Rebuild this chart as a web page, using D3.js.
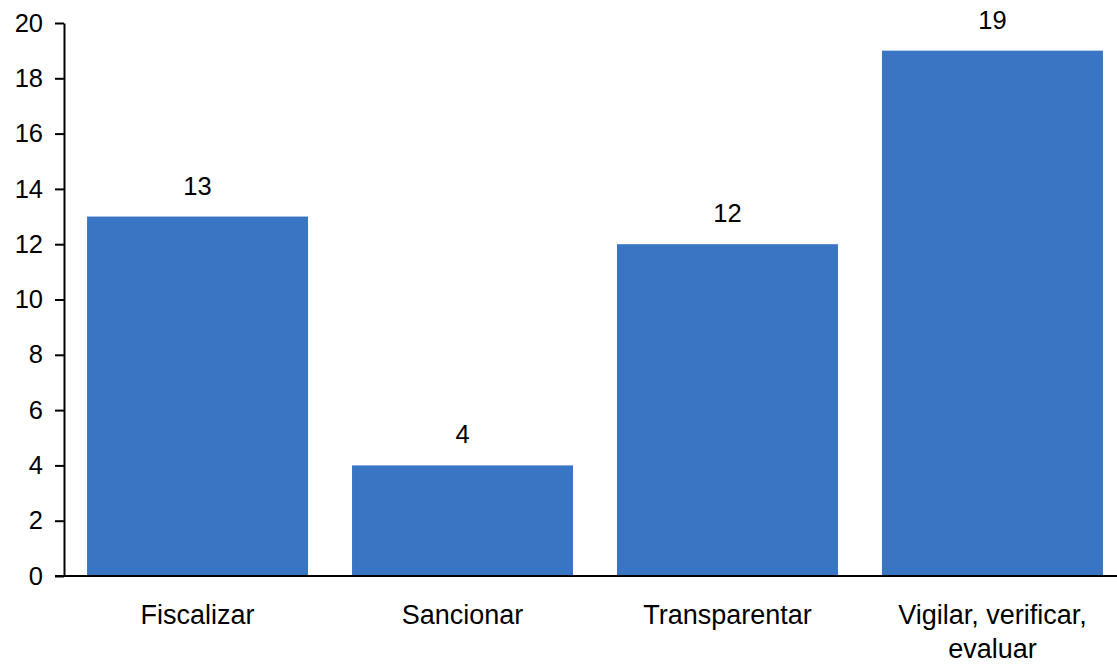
<!DOCTYPE html>
<html>
<head>
<meta charset="utf-8">
<script src="https://cdn.jsdelivr.net/npm/d3@7/dist/d3.min.js"></script>
<style>
  body { margin: 0; background: #fff; }
  svg { display: block; font-family: "Liberation Sans", Arial, sans-serif; }
</style>
</head>
<body>
<div id="chart"></div>
<script>
const categories = ["Fiscalizar", "Sancionar", "Transparentar", "Vigilar, verificar, evaluar"];
const values = [13, 4, 12, 19];
const yTicks = [0, 2, 4, 6, 8, 10, 12, 14, 16, 18, 20];

const W = 1117, H = 664;
const plotLeft = 64, plotTop = 23, plotBottom = 576;

const svg = d3.select("#chart").append("svg")
    .attr("width", W)
    .attr("height", H);

const x = d3.scaleBand()
    .domain(categories)
    .range([plotLeft, 1126])
    .paddingInner(0.166)
    .paddingOuter(0.087);

const y = d3.scaleLinear()
    .domain([0, 20])
    .range([plotBottom, plotTop]);

// bars
svg.selectAll(".bar")
    .data(values)
    .enter()
    .append("rect")
    .attr("class", "bar")
    .attr("x", (d, i) => x(categories[i]))
    .attr("y", d => y(d))
    .attr("width", x.bandwidth())
    .attr("height", d => y(0) - y(d))
    .attr("fill", "#3a75c4");

// value labels
svg.selectAll(".label")
    .data(values)
    .enter()
    .append("text")
    .attr("class", "label")
    .attr("x", (d, i) => x(categories[i]) + x.bandwidth() / 2)
    .attr("y", d => y(d) - 22)
    .attr("text-anchor", "middle")
    .attr("font-size", 25.5)
    .attr("fill", "#000")
    .text(d => d);

// y axis
const yAxis = svg.append("g")
    .attr("transform", `translate(${plotLeft},0)`)
    .call(d3.axisLeft(y).tickValues(yTicks).tickSize(9).tickPadding(12).tickSizeOuter(0));
yAxis.selectAll("line, path").attr("stroke", "#000").attr("stroke-width", 2);
yAxis.selectAll("text").attr("font-size", 25.5).attr("fill", "#000")
    .attr("font-family", "Liberation Sans, Arial, sans-serif");

// x axis line
svg.append("line")
    .attr("x1", plotLeft - 9).attr("x2", W)
    .attr("y1", y(0)).attr("y2", y(0))
    .attr("stroke", "#000").attr("stroke-width", 2);

// category labels, wrapped
const catLabels = [["Fiscalizar"], ["Sancionar"], ["Transparentar"], ["Vigilar, verificar,", "evaluar"]];
categories.forEach((c, i) => {
    const t = svg.append("text")
        .attr("text-anchor", "middle")
        .attr("font-size", 27)
        .attr("fill", "#000");
    catLabels[i].forEach((line, j) => {
        t.append("tspan")
            .attr("x", x(c) + x.bandwidth() / 2)
            .attr("y", 624 + j * 34)
            .text(line);
    });
});
</script>
</body>
</html>
